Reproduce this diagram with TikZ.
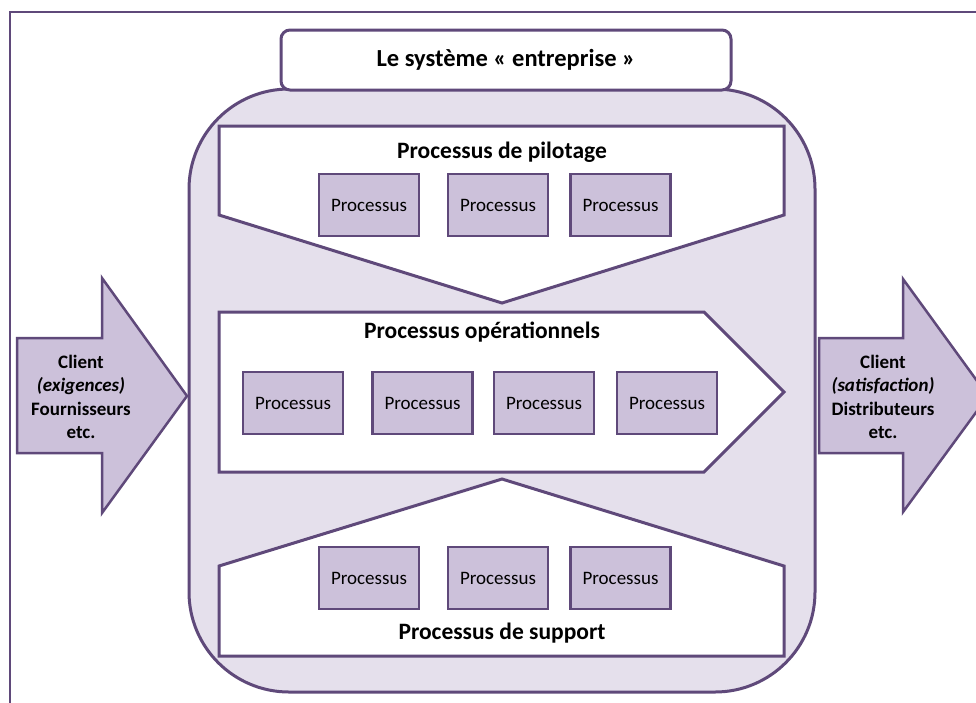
\documentclass[tikz,border=0pt]{standalone}
\usepackage{fontspec}
\setmainfont{Carlito}
\definecolor{prune}{HTML}{5F497A}
\definecolor{lilas}{HTML}{CCC1DA}
\definecolor{lavande}{HTML}{E5E0EC}
\begin{document}
\begin{tikzpicture}[x=1pt, y=-1pt, line join=miter,
        processus/.style={draw=prune, line width=2.5pt, fill=lilas, minimum width=100pt, minimum height=62pt, inner sep=0pt, font=\fontsize{19}{21}\selectfont},
        bloc/.style={draw=prune, line width=3pt, fill=white},
        titre/.style={inner sep=0pt, font=\bfseries\fontsize{23.5}{27}\selectfont},
        fleche/.style={draw=prune, line width=2.5pt, fill=lilas},
        acteur/.style={inner sep=0pt, align=center, font=\bfseries\fontsize{19}{23.3}\selectfont}]
                \clip (0,0) rectangle (976,702);
                \fill[white] (0,0) rectangle (976,702);

                % Frame
                \draw[prune, line width=2.8pt] (10,710) -- (10,12) -- (990,12);

                % Enterprise
                \draw[prune, line width=3pt, fill=lavande, rounded corners=100pt] (189,89) rectangle (815,692);
                \node[draw=prune, line width=3pt, fill=white, rounded corners=9pt, minimum width=450pt, minimum height=60pt, inner sep=0pt,
                    font=\bfseries\fontsize{24.5}{28}\selectfont] at (506,60) (sys) {Le système «~entreprise~»};

                % Pilotage
                \draw[bloc] (219,126) -- (784,126) -- (784,215) -- (502,303) -- (219,215) -- cycle;
                \node[titre] at (502,152) (pil) {Processus de pilotage};
                \node[processus] at (369,205) (p1) {Processus};
                \node[processus] at (498,205) (p2) {Processus};
                \node[processus] at (620.5,205) (p3) {Processus};

                % Operationnels
                \draw[bloc] (219,312) -- (704,312) -- (784,392) -- (704,472) -- (219,472) -- cycle;
                \node[titre] at (482,332) (ope) {Processus opérationnels};
                \node[processus] at (293,403) (o1) {Processus};
                \node[processus] at (422.5,403) (o2) {Processus};
                \node[processus] at (544,403) (o3) {Processus};
                \node[processus] at (667,403) (o4) {Processus};

                % Support
                \draw[bloc] (219,566) -- (502,479) -- (784,566) -- (784,656) -- (219,656) -- cycle;
                \node[titre] at (502,633) (sup) {Processus de support};
                \node[processus] at (369,578) (s1) {Processus};
                \node[processus] at (498,578) (s2) {Processus};
                \node[processus] at (620.5,578) (s3) {Processus};

                % Arrows
                \draw[fleche] (17,338) -- (102,338) -- (102,278) -- (187,396) -- (102,513) -- (102,453) -- (17,453) -- cycle;
                \node[acteur] at (81,397) (ent) {Client\\\textit{(exigences)}\\Fournisseurs\\etc.};
                \draw[fleche] (819,338) -- (903,338) -- (903,279) -- (988,396) -- (903,512) -- (903,453) -- (819,453) -- cycle;
                \node[acteur] at (883,397) (sor) {Client\\\textit{(satisfaction)}\\Distributeurs\\etc.};
\end{tikzpicture}
\end{document}
